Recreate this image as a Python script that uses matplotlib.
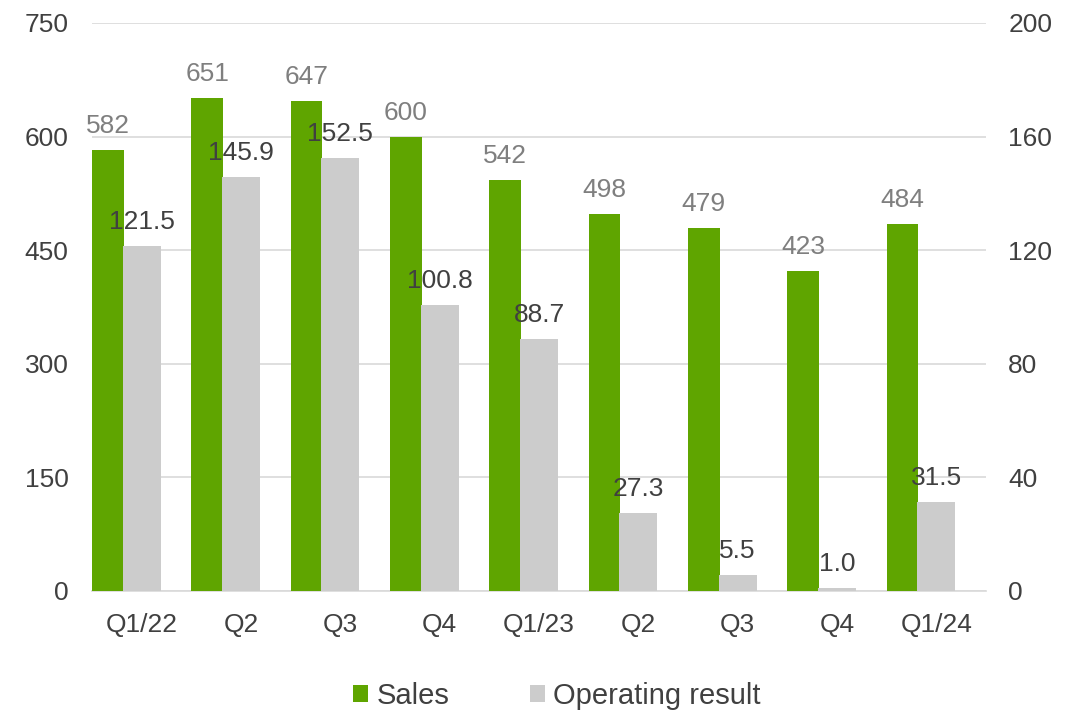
import matplotlib.pyplot as plt
import numpy as np
from matplotlib.patches import Patch

plt.rcParams['font.family'] = ['Liberation Sans', 'DejaVu Sans']

quarters = ["Q1/22", "Q2", "Q3", "Q4", "Q1/23", "Q2", "Q3", "Q4", "Q1/24"]
sales = [582, 651, 647, 600, 542, 498, 479, 423, 484]
operating_result = [121.5, 145.9, 152.5, 100.8, 88.7, 27.3, 5.5, 1.0, 31.5]

GREEN = "#5fa500"
GREY = "#cccccc"
TEXT = "#404040"
LABEL_GREY = "#7f7f7f"
GRID = "#d9d9d9"
FS = 19

fig = plt.figure(figsize=(10.79, 7.11), dpi=100)
ax = fig.add_axes([0.0853, 0.1688, 0.8285, 0.7989])
ax2 = ax.twinx()

x = np.arange(len(quarters))
ax.bar(x - 0.34, sales, width=0.32, color=GREEN, zorder=3)
ax2.bar(x, operating_result, width=0.38, color=GREY, zorder=3)

ax.set_xlim(-0.5, len(quarters) - 0.5)
ax.set_ylim(0, 750)
ax2.set_ylim(0, 200)
ax.set_yticks(np.arange(0, 751, 150))
ax2.set_yticks(np.arange(0, 201, 40))
ax.set_xticks(x)
ax.set_xticklabels(quarters)

ax.grid(axis='y', color=GRID, linewidth=1.2, zorder=0)
ax.set_axisbelow(True)
for a in (ax, ax2):
    for s in a.spines.values():
        s.set_visible(False)
ax.spines['bottom'].set_visible(True)
ax.spines['bottom'].set_color(GRID)
ax.spines['bottom'].set_linewidth(1.2)

ax.tick_params(axis='x', length=0, pad=16, labelsize=FS, labelcolor=TEXT)
ax.tick_params(axis='y', length=0, pad=17, labelsize=FS, labelcolor=TEXT)
ax2.tick_params(axis='y', length=0, pad=16, labelsize=FS, labelcolor=TEXT)

for xi, v in zip(x - 0.34, sales):
    ax.annotate(f"{v:d}", (xi, v), xytext=(0, 12), textcoords='offset pixels',
                ha='center', va='bottom', fontsize=FS, color=LABEL_GREY, zorder=5)
for xi, v in zip(x, operating_result):
    ax2.annotate(f"{v:.1f}", (xi, v), xytext=(0, 12), textcoords='offset pixels',
                 ha='center', va='bottom', fontsize=FS, color=TEXT, zorder=5)

handles = [Patch(facecolor=GREEN), Patch(facecolor=GREY)]
fig.legend(handles, ["Sales", "Operating result"], loc='lower center',
           bbox_to_anchor=(0.516, -0.035), ncol=2, frameon=False, fontsize=21,
           handlelength=0.52, handleheight=0.52, handletextpad=0.28,
           columnspacing=2.75, labelcolor=TEXT)

fig.savefig("out.png", dpi=100)
